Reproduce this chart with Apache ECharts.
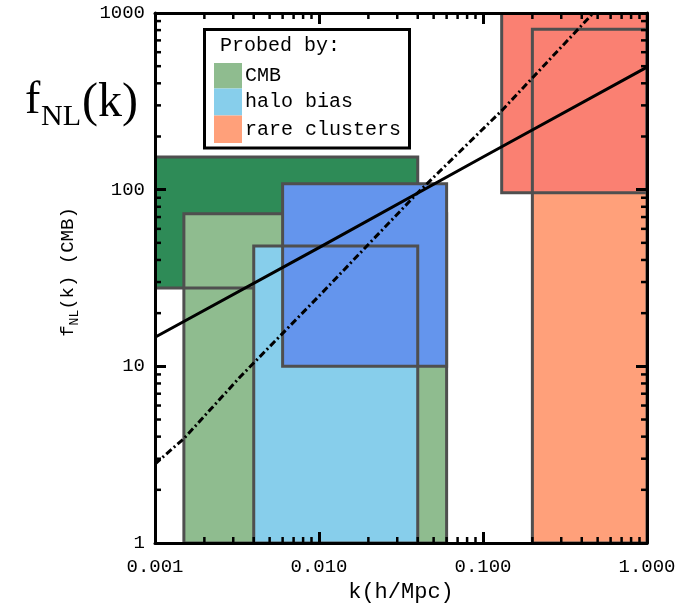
<!DOCTYPE html>
<html><head><meta charset="utf-8">
<script src="https://cdn.jsdelivr.net/npm/echarts@6/dist/echarts.min.js"></script>
<style>html,body{margin:0;padding:0;background:#fff}#c{width:700px;height:610px}</style>
</head><body><div id="c"></div>
<script>
// ---- axis ticks / labels ----
const xTickLabels = ['0.001', '0.010', '0.100', '1.000'];
const yTickLabels = ['1', '10', '100', '1000'];
const xMinorTicks = [0.002, 0.003, 0.004, 0.005, 0.006, 0.007, 0.008, 0.009,
                     0.02, 0.03, 0.04, 0.05, 0.06, 0.07, 0.08, 0.09,
                     0.2, 0.3, 0.4, 0.5, 0.6, 0.7, 0.8, 0.9];
const yMinorTicks = [2, 3, 4, 5, 6, 7, 8, 9,
                     20, 30, 40, 50, 60, 70, 80, 90,
                     200, 300, 400, 500, 600, 700, 800, 900];

// ---- boxes (k range, fNL range) ----
const boxNames = ['CMB (dark)', 'CMB (light)', 'halo bias (light)', 'halo bias (dark)', 'rare clusters (light)', 'rare clusters (dark)'];
const boxKmin = [0.001, 0.0015, 0.004, 0.006, 0.2, 0.13];
const boxKmax = [0.04, 0.06, 0.04, 0.06, 1, 1];
const boxFmin = [27.8, 1, 1, 10, 1, 96];
const boxFmax = [153, 73, 48, 108, 810, 1000];
const boxColors = ['#2e8b57', '#8fbc8f', '#87ceeb', '#6495ed', '#ffa07a', '#fa8072'];
// draw order: [box index, mode] mode 0 = fill, 1 = outline, 2 = fill + outline
const drawOrder = [[0, 0], [1, 0], [0, 1], [1, 1], [2, 0], [3, 2], [2, 1], [4, 0], [5, 2], [4, 1]];

// ---- curves ----
const solidK = [0.001, 0.01, 0.1, 1];
const solidF = [14.6, 47, 153, 494];
const dashK = [0.001, 0.0015, 0.0033, 0.01, 0.04, 0.13, 0.47];
const dashF = [2.8, 3.9, 8.7, 25, 96, 280, 1000];

// ---- legend ----
const legendTitle = 'Probed by:';
const legendLabels = ['CMB', 'halo bias', 'rare clusters'];
const legendColors = ['#8fbc8f', '#87ceeb', '#ffa07a'];

const MONO = 'Liberation Mono';
const chart = echarts.init(document.getElementById('c'), null, {renderer: 'canvas'});

const boxData = drawOrder.map(([i, m]) => [boxKmin[i], boxKmax[i], boxFmin[i], boxFmax[i], m, i]);
const tickData = xMinorTicks.map(v => [v, 1, 0]).concat(yMinorTicks.map(v => [0.001, v, 1]));

function renderBox(params, api) {
  const i = api.value(5), mode = api.value(4);
  const p0 = api.coord([api.value(0), api.value(3)]);
  const p1 = api.coord([api.value(1), api.value(2)]);
  return {
    type: 'rect',
    shape: {x: p0[0], y: p0[1], width: p1[0] - p0[0], height: p1[1] - p0[1]},
    style: {
      fill: mode === 1 ? 'none' : boxColors[i],
      stroke: mode === 0 ? null : '#4f4f4f',
      lineWidth: mode === 0 ? 0 : 3
    }
  };
}

function renderTick(params, api) {
  const type = api.value(2);
  const L = 6;
  const st = {stroke: '#000', lineWidth: 2.5};
  if (type === 0) {
    const v = api.value(0);
    const pb = api.coord([v, 1]), pt = api.coord([v, 1000]);
    return {type: 'group', children: [
      {type: 'line', shape: {x1: pb[0], y1: pb[1], x2: pb[0], y2: pb[1] - L}, style: st},
      {type: 'line', shape: {x1: pt[0], y1: pt[1], x2: pt[0], y2: pt[1] + L}, style: st}
    ]};
  } else {
    const v = api.value(1);
    const pl = api.coord([0.001, v]), pr = api.coord([1, v]);
    return {type: 'group', children: [
      {type: 'line', shape: {x1: pl[0], y1: pl[1], x2: pl[0] + L, y2: pl[1]}, style: st},
      {type: 'line', shape: {x1: pr[0], y1: pr[1], x2: pr[0] - L, y2: pr[1]}, style: st}
    ]};
  }
}

const axisCommon = {
  type: 'log', logBase: 10,
  z: 10,
  axisLine: {show: true, lineStyle: {color: '#000', width: 3}},
  axisTick: {show: true, inside: true, length: 11, lineStyle: {color: '#000', width: 3}},
  minorTick: {show: false},
  splitLine: {show: false},
  minorSplitLine: {show: false}
};

const legendChildren = [
  {type: 'rect', shape: {x: 204.5, y: 29.5, width: 205, height: 118.5},
   style: {fill: '#fff', stroke: '#000', lineWidth: 3}},
  {type: 'text', x: 220, y: 46, style: {text: legendTitle, font: '20px "' + MONO + '"', fill: '#000', verticalAlign: 'middle'}}
];
const swTop = [63, 88.5, 115.5], swH = [25.5, 27, 27.5];
legendLabels.forEach((lab, i) => {
  legendChildren.push({type: 'rect', shape: {x: 214, y: swTop[i], width: 28, height: swH[i]}, style: {fill: legendColors[i]}});
  legendChildren.push({type: 'text', x: 245, y: swTop[i] + swH[i] / 2, style: {text: lab, font: '20px "' + MONO + '"', fill: '#000', verticalAlign: 'middle'}});
});

const option = {
  backgroundColor: '#fff',
  animation: false,
  grid: {left: 155, right: 53, top: 13, bottom: 67, containLabel: false},
  xAxis: [
    Object.assign({}, axisCommon, {
      position: 'bottom', min: 0.001, max: 1,
      axisLabel: {show: true, margin: 14, color: '#000', fontFamily: MONO, fontSize: 19,
        formatter: (v, idx) => xTickLabels[idx] !== undefined ? xTickLabels[idx] : v.toFixed(3)},
      name: 'k(h/Mpc)', nameLocation: 'middle', nameGap: 33,
      nameTextStyle: {color: '#000', fontFamily: MONO, fontSize: 22}
    }),
    Object.assign({}, axisCommon, {
      position: 'top', min: 0.001, max: 1, axisLabel: {show: false}
    })
  ],
  yAxis: [
    Object.assign({}, axisCommon, {
      position: 'left', min: 1, max: 1000,
      axisLabel: {show: true, margin: 10, color: '#000', fontFamily: MONO, fontSize: 19,
        formatter: (v, idx) => yTickLabels[idx] !== undefined ? yTickLabels[idx] : String(Math.round(v))}
    }),
    Object.assign({}, axisCommon, {
      position: 'right', min: 1, max: 1000, axisLabel: {show: false}
    })
  ],
  series: [
    {type: 'custom', name: 'boxes', renderItem: renderBox, data: boxData,
     encode: {x: [0, 1], y: [2, 3]}, xAxisIndex: 0, yAxisIndex: 0, clip: true, z: 2, silent: true},
    {type: 'line', name: 'solid', data: solidK.map((k, i) => [k, solidF[i]]),
     showSymbol: false, symbol: 'none', lineStyle: {color: '#000', width: 3}, z: 5, clip: true, silent: true},
    {type: 'line', name: 'dash-dot', data: dashK.map((k, i) => [k, dashF[i]]),
     showSymbol: false, symbol: 'none', lineStyle: {color: '#000', width: 3, type: [7, 3, 2, 3]}, z: 5, clip: true, silent: true},
    {type: 'custom', name: 'minor ticks', renderItem: renderTick, data: tickData,
     encode: {x: 0, y: 1}, xAxisIndex: 0, yAxisIndex: 0, clip: false, z: 11, silent: true}
  ],
  graphic: [
    {type: 'group', z: 20, children: legendChildren},
    {type: 'text', z: 20, x: 25, y: 101, style: {text: 'f', font: '46px "Liberation Serif"', fill: '#000', verticalAlign: 'middle'}},
    {type: 'text', z: 20, x: 41, y: 117, style: {text: 'NL', font: '30px "Liberation Serif"', fill: '#000', verticalAlign: 'middle'}},
    {type: 'text', z: 20, x: 82, y: 103, style: {text: '(k)', font: '48px "Liberation Serif"', fill: '#000', verticalAlign: 'middle'}},
    {type: 'text', z: 20, x: 68, y: 272, rotation: Math.PI / 2,
     style: {text: '{a|f}{b|NL}{a|(k) (CMB)}', align: 'center', verticalAlign: 'middle',
       rich: {
         a: {fontFamily: MONO, fontSize: 19, lineHeight: 20, verticalAlign: 'top', fill: '#000'},
         b: {fontFamily: MONO, fontSize: 13, lineHeight: 14, padding: [10, 0, 0, 0], verticalAlign: 'top', fill: '#000'}
       }}}
  ]
};
chart.setOption(option);
</script>
</body></html>
